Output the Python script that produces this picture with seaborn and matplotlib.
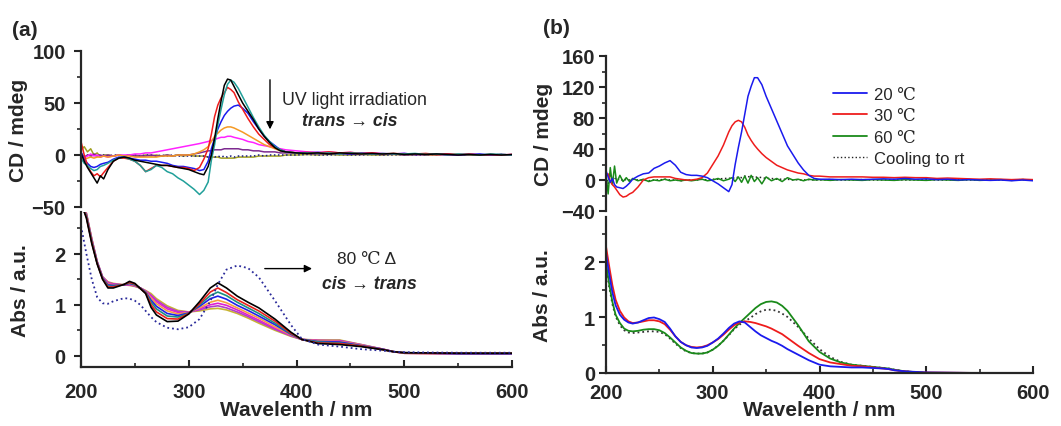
import matplotlib
matplotlib.use("Agg")
import matplotlib.pyplot as plt
from matplotlib.ticker import MultipleLocator
from matplotlib.lines import Line2D
import seaborn as sns

# ---------------- data: panel (a) CD ----------------
wl_cd_a = [200, 203, 206, 209, 212, 215, 218, 221, 225, 230, 235, 240, 245, 250, 255, 260, 265, 270,
           275, 280, 285, 290, 295, 300, 305, 310, 314, 318, 321, 324, 327, 330, 333, 336, 339, 342,
           346, 350, 355, 360, 365, 370, 375, 380, 385, 390, 400, 410, 420, 430, 440, 450, 460, 470,
           480, 490, 500, 510, 520, 530, 540, 550, 560, 570, 580, 590, 600]
cd_a_black = [2, -6, -12, -17, -22, -27, -20, -23, -14, -6, -3, -2, -3, -5, -6, -7, -8, -9,
              -10, -10, -11, -12, -13, -14, -16, -18, -19, -11, 0, 16, 35, 52, 67, 73, 72, 66,
              58, 50, 42, 34, 25, 18, 12, 7, 4, 3, 2, 1.5, 2, 1, 2, 1.5, 1, 1.5,
              1, 1.5, 0.5, 1, 0.5, 1, 0.5, 0, 0.5, 0, 0.5, 0, 0.5]
cd_a_teal = [-3, -8, -10, -13, -15, -14, -11, -10, -8, -5, -3, -2, -4, -6, -10, -16, -14, -10,
             -12, -16, -18, -22, -25, -29, -33, -38, -34, -26, -5, 10, 29, 44, 58, 68, 72, 70,
             64, 56, 46, 36, 27, 19, 13, 8, 5, 3, 2, 2, 1.5, 2, 1, 2, 1.5, 1,
             1.5, 1, 1, 1.5, 0.5, 1, 0, 1, 0.5, 0, 1, 0.5, 0]
cd_a_red = [13, 0, -10, -16, -20, -18, -21, -17, -12, -6, -3, -3, -4, -6, -10, -16, -13, -10,
            -10, -10, -11, -12, -12, -13, -15, -12, -4, 6, 20, 37, 48, 55, 60, 65, 63, 60,
            51, 44, 35, 27, 20, 15, 10, 7, 5, 3, 2, 2.5, 2, 3, 2, 2.5, 1.5, 2,
            1, 1.5, 1, 1, 1.5, 0.5, 1, 0.5, 1, 0, 0.5, 0, 0.5]
cd_a_blue = [3, -4, -8, -11, -12, -11, -9, -8, -7, -4, -2, -2, -3, -4, -5, -5, -6, -6,
             -7, -8, -10, -11, -11, -12, -13, -15, -14, -6, 6, 16, 25, 32, 38, 42, 45, 47,
             48, 45, 40, 32, 25, 18, 13, 9, 5, 3, 2, 2, 2.5, 1.5, 2, 1, 2, 1.5,
             1, 1, 1.5, 0.5, 1, 0.5, 1, 0, 0.5, 1, 0, 0.5, 0]
cd_a_orange = [-2, -4, -3, -2, -3, -2, -2, -1, -2, -1, 0, -1, -1, -2, -2, -2, -2, -2,
               -1, -1, -1, 0, 0, 0, 1, 3, 5, 8, 13, 18, 21, 24, 26, 27, 27, 26,
               24, 22, 19, 16, 13, 10, 8, 6, 4, 3, 2, 2, 1.5, 2.5, 1.5, 2, 1, 1.5,
               1, 0.5, 1, 1, 0.5, 0, 1, 0.5, 0, 0.5, 0, 0.5, 0]
cd_a_magenta = [0, -3, -1, 1, -1, 0, -2, -1, -2, -1, 0, 0, 0, 1, 1, 2, 2, 3,
                4, 5, 6, 7, 8, 9, 10, 11, 12, 13, 14, 15, 16, 17, 17, 18, 18, 17,
                16, 15, 13, 12, 10, 9, 8, 7, 6, 5, 4, 3, 2.5, 3, 2, 2.5, 1.5, 2,
                1.5, 1, 1.5, 0.5, 1, 0.5, 0, 0.5, 1, 0, 0.5, 0, 0.5]
cd_a_purple = [2, -2, 0, -1, 1, -1, 0, -1, 0, -1, 0, -1, 0, -1, -1, -1, 0, -1,
               -1, 0, -1, 0, 0, 0, 1, 2, 3, 4, 4, 5, 5, 5, 6, 6, 6, 6,
               6, 5, 5, 4, 4, 3, 3, 3, 2, 2, 2, 1.5, 1, 1.5, 1, 1, 0.5, 1,
               0.5, 1, 0, 0.5, 0, 0.5, 0, 0, 0.5, 0, 0, 0.5, 0]
cd_a_olive = [5, 8, 3, 6, 0, 2, -2, 0, 0, -1, 0, -1, 0, 0, -1, 0, -1, 0,
              -1, 0, -1, 0, -1, 0, -1, -1, -1, -2, -2, -2, -2, -3, -3, -3, -3, -3,
              -2, -2, -2, -2, -1, -1, -1, -1, -1, 0, 0, 0.5, 0, 0.5, 0, 0, 0.5, 0,
              0, 0.5, 0, 0, 0.5, 0, 0, 0.5, 0, 0, 0.5, 0, 0]
cd_a_navy = [1, -2, 0, -1, 0, -1, 0, 0, -1, 0, 0, -1, 0, 0, -1, 0, 0, -1,
             0, -1, 0, -1, -1, -1, -1, -1, -1, -2, -1, -2, -1, -2, -1, -2, -1, -2,
             -1, -1, -1, -1, 0, -1, 0, 0, 0, 0, 0, 0.5, 0, 0, 0.5, 0, 0, 0.5,
             0, 0, 0.5, 0, 0, 0, 0.5, 0, 0, 0, 0, 0.5, 0]

# ---------------- data: panel (a) Abs ----------------
wl_abs_a = [200, 205, 210, 215, 220, 225, 230, 240, 245, 250, 255, 260, 265, 270, 280, 290, 300, 310,
            320, 327, 335, 345, 355, 365, 380, 395, 405, 420, 440, 460, 480, 490, 500, 550, 600]
abs_a_black = [3.0, 2.70, 2.20, 1.80, 1.50, 1.33, 1.33, 1.40, 1.46, 1.42, 1.32, 1.22, 0.95, 0.80, 0.67, 0.68, 0.82, 1.06,
               1.33, 1.43, 1.33, 1.17, 1.05, 0.94, 0.72, 0.46, 0.32, 0.24, 0.22, 0.18, 0.12, 0.08, 0.06, 0.05, 0.05]
abs_a_red = [3.0, 2.72, 2.22, 1.81, 1.51, 1.35, 1.35, 1.40, 1.44, 1.41, 1.32, 1.23, 1.00, 0.86, 0.73, 0.72, 0.83, 1.02,
             1.25, 1.33, 1.24, 1.10, 0.99, 0.88, 0.68, 0.44, 0.32, 0.25, 0.24, 0.19, 0.12, 0.08, 0.06, 0.05, 0.05]
abs_a_teal = [3.0, 2.74, 2.24, 1.82, 1.52, 1.37, 1.36, 1.40, 1.43, 1.40, 1.32, 1.24, 1.05, 0.92, 0.78, 0.76, 0.83, 1.00,
              1.18, 1.25, 1.18, 1.05, 0.94, 0.83, 0.64, 0.43, 0.32, 0.27, 0.25, 0.19, 0.12, 0.08, 0.06, 0.05, 0.05]
abs_a_blue = [3.0, 2.75, 2.25, 1.83, 1.53, 1.39, 1.38, 1.39, 1.42, 1.39, 1.33, 1.25, 1.09, 0.97, 0.83, 0.79, 0.84, 0.97,
              1.12, 1.17, 1.11, 0.99, 0.89, 0.78, 0.61, 0.42, 0.32, 0.28, 0.27, 0.20, 0.13, 0.08, 0.06, 0.04, 0.04]
abs_a_orange = [3.0, 2.77, 2.27, 1.83, 1.53, 1.41, 1.39, 1.39, 1.41, 1.38, 1.33, 1.26, 1.13, 1.02, 0.88, 0.82, 0.85, 0.94,
                1.05, 1.09, 1.04, 0.94, 0.84, 0.74, 0.57, 0.41, 0.32, 0.29, 0.28, 0.21, 0.13, 0.08, 0.05, 0.04, 0.04]
abs_a_magenta = [3.0, 2.78, 2.28, 1.84, 1.54, 1.43, 1.40, 1.39, 1.40, 1.37, 1.33, 1.27, 1.17, 1.06, 0.92, 0.85, 0.85, 0.92,
                 1.00, 1.03, 0.99, 0.90, 0.80, 0.70, 0.54, 0.40, 0.32, 0.30, 0.29, 0.21, 0.13, 0.08, 0.05, 0.04, 0.04]
abs_a_violet = [3.0, 2.79, 2.29, 1.85, 1.55, 1.44, 1.41, 1.39, 1.39, 1.37, 1.33, 1.27, 1.19, 1.09, 0.95, 0.87, 0.86, 0.90,
                0.96, 0.98, 0.94, 0.86, 0.77, 0.67, 0.52, 0.39, 0.32, 0.30, 0.30, 0.22, 0.13, 0.08, 0.05, 0.04, 0.04]
abs_a_olive = [3.0, 2.80, 2.30, 1.85, 1.55, 1.45, 1.42, 1.39, 1.38, 1.36, 1.33, 1.28, 1.22, 1.12, 0.98, 0.89, 0.86, 0.88,
               0.92, 0.93, 0.90, 0.83, 0.74, 0.64, 0.50, 0.38, 0.32, 0.31, 0.31, 0.22, 0.13, 0.08, 0.05, 0.04, 0.04]
abs_a_heated = [2.55, 2.00, 1.50, 1.15, 1.03, 1.02, 1.07, 1.13, 1.12, 1.08, 1.00, 0.88, 0.76, 0.66, 0.55, 0.52, 0.56, 0.72,
                1.07, 1.40, 1.69, 1.77, 1.72, 1.54, 1.08, 0.60, 0.33, 0.22, 0.18, 0.13, 0.10, 0.08, 0.07, 0.06, 0.06]

# ---------------- data: panel (b) CD ----------------
wl_cd_b = [200, 202, 204, 206, 208, 210, 213, 216, 219, 222, 225, 230, 235, 240, 245, 250, 255, 260, 265, 270,
           275, 280, 285, 290, 295, 300, 305, 310, 315, 318, 321, 324, 327, 330, 333, 336, 339, 342, 346, 350,
           355, 360, 365, 370, 375, 380, 385, 390, 395, 400, 410, 420, 430, 440, 450, 460, 470, 480, 490, 500,
           510, 520, 530, 540, 550, 560, 570, 580, 590, 600]
cd_b_20 = [12, 4, -3, 2, -6, -9, -10, -11, -8, -4, 1, 5, 8, 9, 15, 18, 22, 25, 19, 10,
           7, 6, 6, 5, 3, -1, -5, -10, -15, -6, 20, 42, 62, 85, 108, 121, 132, 132, 123, 108,
           92, 76, 60, 44, 33, 22, 13, 6, 2, 1, 1, 0.5, 1, 0.5, 1, 1.5, 1, 2, 1, 1.5,
           0.5, 1, 0, 0.5, 0, -0.5, 0, -1, 0, -1]
cd_b_30 = [6, 8, -2, -6, -9, -13, -19, -22, -21, -18, -16, -9, 0, 3, 4, 4, 4, 4, 2, 1,
           0, 0, 1, 3, 9, 20, 31, 45, 62, 70, 75, 77, 75, 68, 58, 51, 45, 40, 34, 29,
           24, 19, 16, 13, 11, 9, 8, 6, 5, 5, 4, 4, 4, 4, 3.5, 3.5, 3, 3.5, 3, 3,
           2, 2.5, 2, 1.5, 1, 1.5, 1, 0.5, 1, 0.5]
cd_b_60 = [8, -18, 16, -6, 18, -4, 6, -2, 3, -2, 2, -1, 1, -2, 0, -1, 1, -1, 0, -1,
           0, -1, 0, 1, -1, 0, 2, -1, 1, 3, -2, 4, -3, 5, -4, 6, -2, 3, -5, 4,
           -1, 2, -2, 3, 0, 1, -1, 1, 0, 0.5, -0.5, 0.5, 0, -0.5, 0.5, 0, -0.5, 0.5, 0, -0.5,
           0.5, 0, -0.5, 0.5, -0.5, 0, 0.5, -0.5, 0.5, 0]
cd_b_cool = [5, -5, 8, 0, 3, 0, 2, -1, 1, 0, 1, 0, 0, -1, 0, 0, 1, 0, 0, -1,
             0, 0, 0, 1, 0, 1, 1, 2, 2, 3, 2, 4, 3, 5, 4, 5, 3, 4, 3, 2,
             2, 1, 1, 1, 0, 0.5, 0, 0.5, 0, 0, 0.5, 0, 0, 0.5, 0, 0, 0.5, 0, 0, 0.5,
             0, 0, 0.5, 0, 0, 0.5, 0, 0, 0.5, 0]

# ---------------- data: panel (b) Abs ----------------
wl_abs_b = [200, 203, 206, 209, 213, 217, 221, 225, 230, 235, 240, 245, 250, 255, 260, 265, 270, 275, 280, 285,
            290, 295, 300, 305, 310, 315, 320, 325, 330, 335, 340, 345, 350, 355, 360, 365, 370, 380, 390, 400,
            410, 420, 430, 440, 450, 460, 465, 470, 480, 490, 500, 550, 600]
abs_b_20 = [2.15, 1.78, 1.45, 1.22, 1.05, 0.96, 0.91, 0.89, 0.91, 0.95, 0.99, 1.00, 0.97, 0.92, 0.80, 0.66, 0.56, 0.50, 0.46, 0.45,
            0.46, 0.49, 0.55, 0.62, 0.71, 0.81, 0.89, 0.93, 0.91, 0.83, 0.75, 0.68, 0.63, 0.58, 0.54, 0.49, 0.43, 0.33, 0.23, 0.15,
            0.12, 0.11, 0.10, 0.10, 0.09, 0.08, 0.07, 0.05, 0.03, 0.02, 0.01, 0.0, 0.0]
abs_b_30 = [2.28, 1.92, 1.58, 1.32, 1.12, 1.00, 0.93, 0.90, 0.91, 0.93, 0.95, 0.95, 0.93, 0.88, 0.78, 0.66, 0.56, 0.50, 0.47, 0.46,
            0.47, 0.50, 0.55, 0.61, 0.69, 0.78, 0.86, 0.91, 0.93, 0.92, 0.90, 0.87, 0.84, 0.80, 0.75, 0.70, 0.63, 0.49, 0.36, 0.25,
            0.19, 0.16, 0.13, 0.12, 0.10, 0.08, 0.07, 0.05, 0.03, 0.015, 0.01, 0.0, 0.0]
abs_b_60 = [1.98, 1.60, 1.28, 1.05, 0.90, 0.80, 0.76, 0.75, 0.76, 0.78, 0.79, 0.79, 0.77, 0.72, 0.64, 0.55, 0.46, 0.40, 0.36, 0.35,
            0.35, 0.37, 0.42, 0.49, 0.58, 0.69, 0.80, 0.90, 0.99, 1.08, 1.17, 1.24, 1.28, 1.29, 1.27, 1.21, 1.12, 0.86, 0.57, 0.38,
            0.26, 0.19, 0.15, 0.13, 0.11, 0.09, 0.08, 0.06, 0.03, 0.015, 0.0, 0.0, 0.0]
abs_b_cool = [1.92, 1.55, 1.24, 1.02, 0.86, 0.77, 0.73, 0.72, 0.73, 0.74, 0.75, 0.75, 0.74, 0.70, 0.62, 0.53, 0.45, 0.39, 0.36, 0.35,
              0.35, 0.37, 0.42, 0.49, 0.58, 0.68, 0.79, 0.87, 0.93, 0.99, 1.06, 1.11, 1.14, 1.14, 1.12, 1.07, 1.01, 0.83, 0.62, 0.43,
              0.29, 0.20, 0.15, 0.13, 0.11, 0.09, 0.08, 0.06, 0.03, 0.015, 0.0, 0.0, 0.0]

legend_labels_b = ["20 \u2103", "30 \u2103", "60 \u2103", "Cooling to rt"]

# ---------------- styling ----------------
sns.set_style("ticks")
plt.rcParams["font.family"] = ["Liberation Sans", "DejaVu Sans"]
plt.rcParams["font.weight"] = "bold"
plt.rcParams["axes.linewidth"] = 1.6

W, H = 1061, 427
fig = plt.figure(figsize=(W / 100, H / 100), dpi=100)
ax_a1 = fig.add_axes([81 / W, 1 - 208 / H, 431 / W, 156 / H])
ax_a2 = fig.add_axes([81 / W, 1 - 368 / H, 431 / W, 155 / H])
ax_b1 = fig.add_axes([606 / W, 1 - 212 / H, 427 / W, 155 / H])
ax_b2 = fig.add_axes([606 / W, 1 - 374 / H, 427 / W, 156 / H])

LW = 1.1


def draw(ax, x, y, color, ls="-", lw=LW):
    sns.lineplot(x=x, y=y, ax=ax, color=color, linestyle=ls, linewidth=lw,
                 estimator=None, sort=False, legend=False)


# (a) CD
for y, c in [(cd_a_olive, "#a0a020"), (cd_a_navy, "#1c1c80"), (cd_a_purple, "#7d2a90"),
             (cd_a_magenta, "#ff22ff"), (cd_a_orange, "#f59a25"), (cd_a_blue, "#1a1af0"),
             (cd_a_red, "#ee1c1c"), (cd_a_teal, "#21a09a"), (cd_a_black, "#000000")]:
    draw(ax_a1, wl_cd_a, y, c, ls=":" if c == "#1c1c80" else "-")

# (a) Abs
for y, c in [(abs_a_olive, "#c8b432"), (abs_a_violet, "#b040c8"), (abs_a_magenta, "#e020d0"),
             (abs_a_orange, "#f5a040"), (abs_a_blue, "#2020e8"), (abs_a_teal, "#1e9080"),
             (abs_a_red, "#e8201c"), (abs_a_black, "#000000")]:
    draw(ax_a2, wl_abs_a, y, c, lw=1.2)
draw(ax_a2, wl_abs_a, abs_a_heated, "#2a2a9a", ls=":", lw=1.3)

# (b) CD
draw(ax_b1, wl_cd_b, cd_b_cool, "#222222", ls=":")
draw(ax_b1, wl_cd_b, cd_b_60, "#1a8a1a")
draw(ax_b1, wl_cd_b, cd_b_30, "#ee1c1c")
draw(ax_b1, wl_cd_b, cd_b_20, "#1a1aee")

# (b) Abs
draw(ax_b2, wl_abs_b, abs_b_cool, "#333333", ls=":", lw=1.3)
draw(ax_b2, wl_abs_b, abs_b_60, "#1a8a1a", lw=1.3)
draw(ax_b2, wl_abs_b, abs_b_30, "#ee1c1c", lw=1.3)
draw(ax_b2, wl_abs_b, abs_b_20, "#1a1aee", lw=1.3)

TICK_FS = 14.5
LABEL_FS = 15

for ax in (ax_a1, ax_a2, ax_b1, ax_b2):
    ax.set_xlim(200, 600)
    ax.spines["top"].set_visible(False)
    ax.spines["right"].set_visible(False)
    ax.tick_params(axis="y", which="major", direction="out", length=5, width=1.5,
                   labelsize=TICK_FS, pad=3)
    ax.tick_params(axis="y", which="minor", direction="out", length=3, width=1.2)
    ax.set_xlabel("")
    ax.set_ylabel("")

for ax in (ax_a1, ax_b1):
    ax.spines["bottom"].set_visible(False)
    ax.tick_params(axis="x", which="both", bottom=False, labelbottom=False)

for ax in (ax_a2, ax_b2):
    ax.xaxis.set_major_locator(MultipleLocator(100))
    ax.xaxis.set_minor_locator(MultipleLocator(50))
    ax.tick_params(axis="x", which="major", direction="in", length=5, width=1.5,
                   labelsize=TICK_FS, pad=11)
    ax.tick_params(axis="x", which="minor", direction="in", length=3, width=1.2)
    ax.yaxis.set_major_locator(MultipleLocator(1))
    ax.yaxis.set_minor_locator(MultipleLocator(0.5))
    ax.set_xlabel("Wavelenth / nm", fontsize=LABEL_FS, fontweight="bold")
    ax.set_ylabel("Abs / a.u.", fontsize=LABEL_FS, fontweight="bold")

ax_b2.tick_params(axis="x", which="major", pad=7)
ax_a2.xaxis.set_label_coords(0.5, -0.215)
ax_b2.xaxis.set_label_coords(0.5, -0.175)

ax_a1.set_ylim(-50, 100)
ax_a1.yaxis.set_major_locator(MultipleLocator(50))
ax_a1.yaxis.set_minor_locator(MultipleLocator(25))
ax_a1.set_ylabel("CD / mdeg", fontsize=LABEL_FS, fontweight="bold")
ax_a1.tick_params(axis="y", which="major", pad=6)

ax_b1.set_ylim(-40, 160)
ax_b1.yaxis.set_major_locator(MultipleLocator(40))
ax_b1.yaxis.set_minor_locator(MultipleLocator(20))
ax_b1.set_ylabel("CD / mdeg", fontsize=LABEL_FS, fontweight="bold")

ax_a2.set_ylim(-0.22, 2.82)
ax_a2.tick_params(axis="y", which="major", pad=6)
ax_b2.set_ylim(0, 2.81)

ax_a1.yaxis.set_label_coords(-0.123, 0.5)
ax_a2.yaxis.set_label_coords(-0.118, 0.5)
ax_b1.yaxis.set_label_coords(-0.124, 0.5)
ax_b2.yaxis.set_label_coords(-0.126, 0.5)

for ax in (ax_a1, ax_a2, ax_b1, ax_b2):
    for lbl in ax.get_xticklabels() + ax.get_yticklabels():
        lbl.set_fontweight("bold")

# annotations (a) CD
ax_a1.annotate("", xy=(375.4, 22), xytext=(375.4, 75),
               arrowprops=dict(arrowstyle="-|>", color="black", lw=1.0, mutation_scale=11))
ax_a1.text(386.5, 53.8, "UV light irradiation", fontsize=12.8, fontweight="normal",
           va="center", ha="left")
ax_a1.text(405, 32.7, "trans \u2192 cis", fontsize=12.8, fontweight="bold", style="italic",
           va="center", ha="left")

# annotations (a) Abs
ax_a2.annotate("", xy=(417, 1.71), xytext=(368, 1.71),
               arrowprops=dict(arrowstyle="-|>", color="black", lw=1.0, mutation_scale=11))
ax_a2.text(437.6, 1.90, "80 \u2103 \u0394", fontsize=12.5, fontweight="normal",
           family=["Liberation Sans", "DejaVu Serif"], va="center", ha="left")
ax_a2.text(423.7, 1.41, "cis \u2192 trans", fontsize=12.7, fontweight="bold", style="italic",
           va="center", ha="left")

# legend (b)
handles = [Line2D([], [], color="#1a1aee", lw=1.3),
           Line2D([], [], color="#ee1c1c", lw=1.3),
           Line2D([], [], color="#1a8a1a", lw=1.3),
           Line2D([], [], color="#222222", lw=1.0, ls=":")]
ax_b1.legend(handles, legend_labels_b, loc="upper left", bbox_to_anchor=(0.532, 0.80),
             frameon=False, borderpad=0, borderaxespad=0, handlelength=2.05,
             handletextpad=0.4, labelspacing=0.38,
             prop={"family": ["Liberation Sans", "DejaVu Serif"], "size": 12, "weight": "normal"})

fig.text(12 / W, 1 - 30 / H, "(a)", fontsize=15, fontweight="bold", va="center", ha="left")
fig.text(543 / W, 1 - 28 / H, "(b)", fontsize=15, fontweight="bold", va="center", ha="left")

fig.savefig("out.png", dpi=100)
